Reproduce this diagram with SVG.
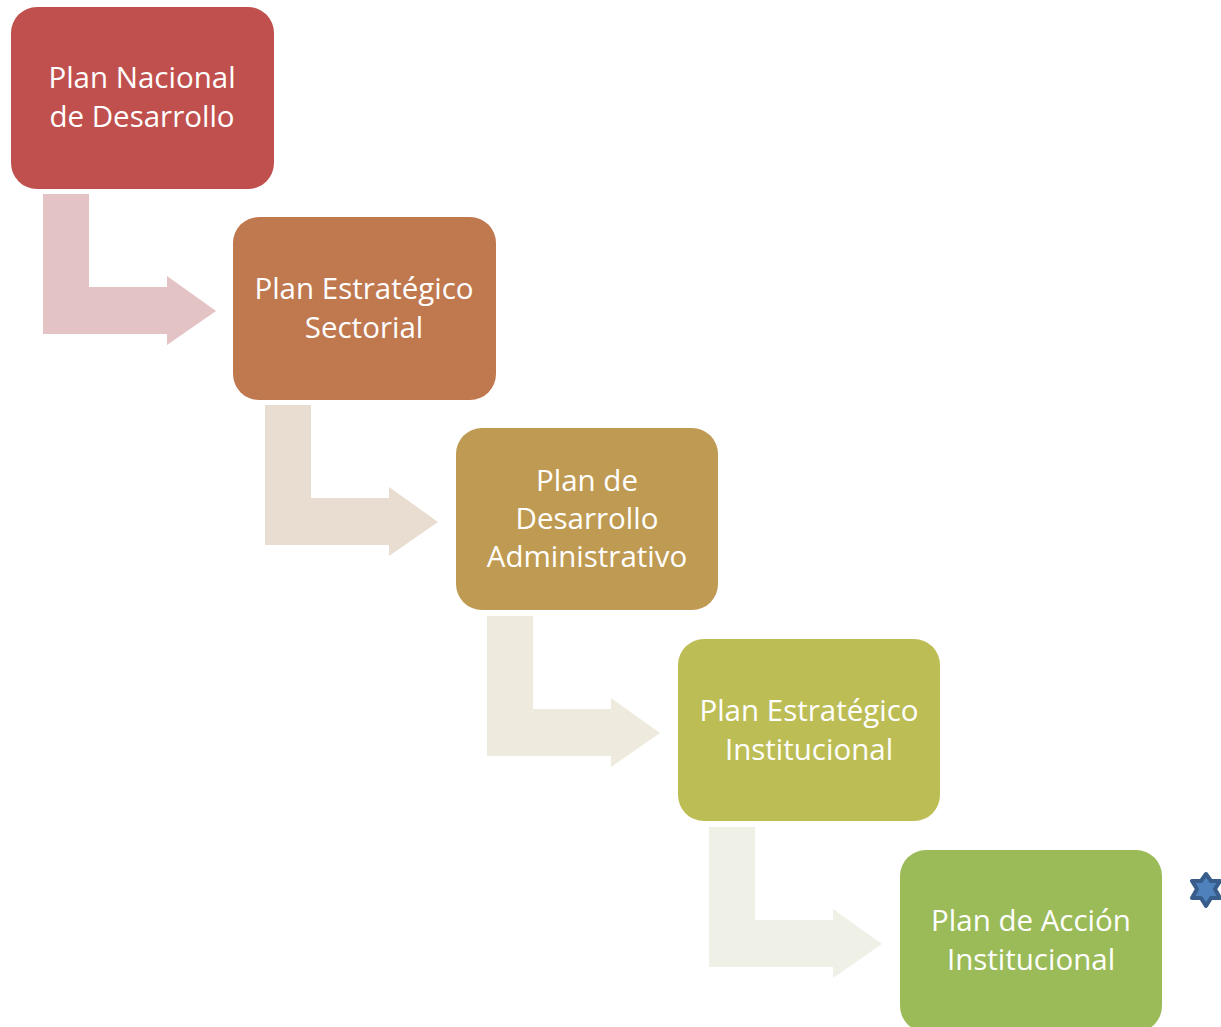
<svg xmlns="http://www.w3.org/2000/svg" width="1221" height="1027" viewBox="0 0 1221 1027">
<style>
.box{stroke:none}
.t{font-family:"Open Sans","Noto Sans",sans-serif;font-size:29.5px;fill:#ffffff;text-anchor:middle}
</style>
<defs>
<path id="arr" d="M0,0 H46 V93 H124 V82 L173,117 L124,151 V140 H0 Z"/>
</defs>
<rect width="1221" height="1027" fill="#ffffff"/>
<g id="connectors">
<use href="#arr" x="43" y="194" fill="#e3c3c4"/>
<use href="#arr" x="265" y="405" fill="#e9dcd0"/>
<use href="#arr" x="487" y="616" fill="#eeebde"/>
<use href="#arr" x="709" y="827" fill="#eff1e7"/>
</g>
<g id="n1"><rect class="box" x="11" y="7" width="263" height="182" rx="26" fill="#c0504d"/>
<text class="t" x="142" y="88">Plan Nacional</text><text class="t" x="142" y="127">de Desarrollo</text></g>
<g id="n2"><rect class="box" x="233" y="217" width="263" height="183" rx="26" fill="#c0784f"/>
<text class="t" x="364" y="299">Plan Estratégico</text><text class="t" x="364" y="338">Sectorial</text></g>
<g id="n3"><rect class="box" x="456" y="428" width="262" height="182" rx="26" fill="#bf9a52"/>
<text class="t" x="587" y="491">Plan de</text><text class="t" x="587" y="529">Desarrollo</text><text class="t" x="587" y="567">Administrativo</text></g>
<g id="n4"><rect class="box" x="678" y="639" width="262" height="182" rx="26" fill="#bdbd56"/>
<text class="t" x="809" y="721">Plan Estratégico</text><text class="t" x="809" y="760">Institucional</text></g>
<g id="n5"><rect class="box" x="900" y="850" width="262" height="182" rx="26" fill="#9bbb59"/>
<text class="t" x="1031" y="931">Plan de Acción</text><text class="t" x="1031" y="970">Institucional</text></g>
<g id="star"><polygon points="1206,874 1211,881 1220,881 1215,889 1220,898 1211,898 1206,906 1201,898 1192,898 1197,889 1192,881 1201,881" fill="#4f81bd" stroke="#385d8a" stroke-width="4" stroke-linejoin="round"/></g>
</svg>
